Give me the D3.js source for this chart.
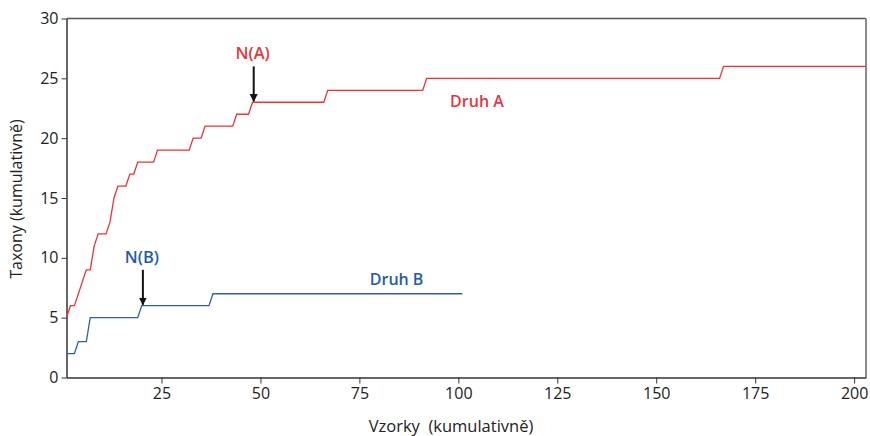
<!DOCTYPE html>
<html>
<head>
<meta charset="utf-8">
<script src="https://cdn.jsdelivr.net/npm/d3@7"></script>
<style>
  body { margin: 0; background: #fff; }
  text { font-family: "Open Sans", "Noto Sans", sans-serif; }
</style>
</head>
<body>
<div class="chart"></div>
<script>
"use strict";

// DATA ----------------------------
// cumulative taxa vs. cumulative samples (step curves)
const druhA = [
  [1, 5], [2, 6], [3, 6], [6, 9], [7, 9], [8, 11], [9, 12], [11, 12],
  [12, 13], [13, 15], [14, 16], [16, 16], [17, 17], [18, 17], [19, 18],
  [23, 18], [24, 19], [32, 19], [33, 20], [35, 20], [36, 21], [43, 21],
  [44, 22], [47, 22], [48, 23], [66, 23], [67, 24], [91, 24], [92, 25],
  [166, 25], [167, 26], [203, 26]
];
const druhB = [
  [1, 2], [3, 2], [4, 3], [6, 3], [7, 5], [19, 5], [20, 6], [37, 6],
  [38, 7], [101, 7]
];
const xTicks = [25, 50, 75, 100, 125, 150, 175, 200];
const yTicks = [0, 5, 10, 15, 20, 25, 30];
const arrows = [
  { label: "N(A)", x: 48.3, from: 26, to: 23, color: "#e0383e" },
  { label: "N(B)", x: 20.3, from: 9, to: 6, color: "#1f5ca8" }
];
const seriesLabels = [
  { label: "Druh A", x: 104.7, y: 22.6, color: "#e0383e" },
  { label: "Druh B", x: 84.4, y: 7.7, color: "#1f5ca8" }
];

const W = 870, H = 436;
const MARGIN = { top: 18.5, right: 4, bottom: 58.5, left: 66.5 };
const WIDTH = W - MARGIN.left - MARGIN.right,
  HEIGHT = H - MARGIN.top - MARGIN.bottom;

const svg = d3.select(".chart").append("svg")
  .attr("width", W).attr("height", H);
const g = svg.append("g")
  .attr("transform", `translate(${MARGIN.left},${MARGIN.top})`);

const x = d3.scaleLinear().domain([1, 203]).range([0, WIDTH]);
const y = d3.scaleLinear().domain([0, 30]).range([HEIGHT, 0]);

// frame (top + right)
g.append("line").attr("x1", 0).attr("x2", WIDTH).attr("y1", 0).attr("y2", 0)
  .attr("stroke", "#555").attr("stroke-width", 1.5);
g.append("line").attr("x1", WIDTH).attr("x2", WIDTH).attr("y1", 0).attr("y2", HEIGHT)
  .attr("stroke", "#8a8a8a").attr("stroke-width", 2);

// axes
const xAxis = g.append("g").attr("transform", `translate(0,${HEIGHT})`)
  .call(d3.axisBottom(x).tickValues(xTicks).tickSize(6).tickPadding(4).tickSizeOuter(0));
const yAxis = g.append("g")
  .call(d3.axisLeft(y).tickValues(yTicks).tickSize(5).tickPadding(3).tickSizeOuter(0));
[xAxis, yAxis].forEach((a) => {
  a.select(".domain").attr("stroke", "#333").attr("stroke-width", 1.5);
  a.selectAll(".tick line").attr("stroke", "#333");
  a.selectAll(".tick text").attr("fill", "#222").style("font-size", "16px")
    .style("font-family", "'Open Sans', sans-serif");
});

// axis titles
svg.append("text").attr("x", 451).attr("y", 432).attr("text-anchor", "middle")
  .attr("fill", "#222").style("font-size", "16.5px").text("Vzorky\u00a0\u00a0(kumulativně)");
svg.append("text").attr("transform", "translate(22,199) rotate(-90)")
  .attr("text-anchor", "middle").attr("fill", "#222").style("font-size", "16px")
  .text("Taxony (kumulativně)");

// curves
const line = d3.line().x((d) => x(d[0])).y((d) => y(d[1]));
g.append("path").datum(druhB).attr("d", line).attr("fill", "none")
  .attr("stroke", "#2f5fa8").attr("stroke-width", 1.3);
g.append("path").datum(druhA).attr("d", line).attr("fill", "none")
  .attr("stroke", "#e8333b").attr("stroke-width", 1.3);

// arrows
svg.append("defs").append("marker").attr("id", "head")
  .attr("viewBox", "0 0 10 10").attr("refX", 9).attr("refY", 5)
  .attr("markerWidth", 4).attr("markerHeight", 4).attr("orient", "auto")
  .append("path").attr("d", "M0,0L10,5L0,10Z").attr("fill", "#111");

arrows.forEach((a) => {
  g.append("line").attr("x1", x(a.x)).attr("x2", x(a.x))
    .attr("y1", y(a.from)).attr("y2", y(a.to) - 1)
    .attr("stroke", "#111").attr("stroke-width", 2).attr("marker-end", "url(#head)");
  g.append("text").attr("x", x(a.x) - 1).attr("y", y(a.from) - 7)
    .attr("text-anchor", "middle").attr("fill", a.color)
    .style("font-size", "16.5px").style("font-weight", 600).text(a.label);
});

seriesLabels.forEach((s) => {
  g.append("text").attr("x", x(s.x)).attr("y", y(s.y))
    .attr("text-anchor", "middle").attr("fill", s.color)
    .style("font-size", "16px").style("font-weight", 600).text(s.label);
});
</script>
</body>
</html>
